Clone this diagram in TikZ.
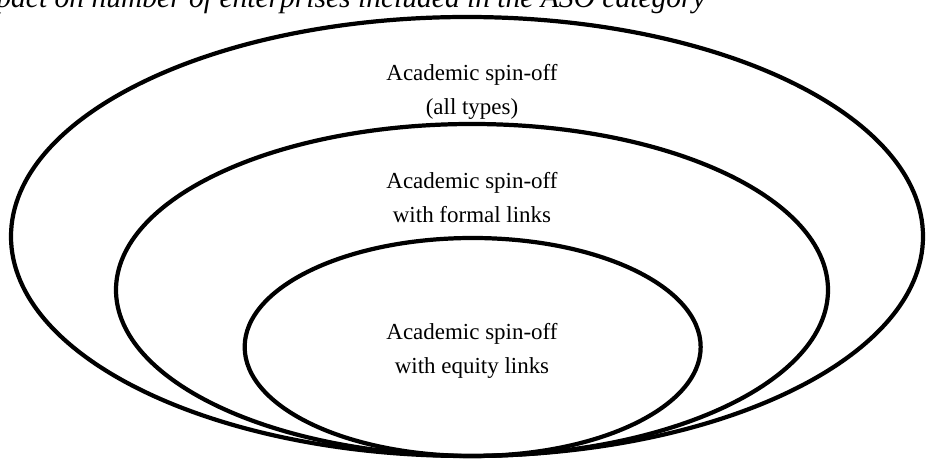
\documentclass[tikz,border=0pt]{standalone}
\usepackage{fontspec}
\setmainfont{Liberation Serif}
\begin{document}
\begin{tikzpicture}[
    ring/.style={draw, line width=1.8pt},
    ringtext/.style={align=center, font=\fontsize{9.8}{14.5}\selectfont},
    caption/.style={anchor=base west, inner sep=0pt, font=\itshape\fontsize{12.6}{14}\selectfont}
]
    \useasboundingbox (0,0) rectangle (13.905,6.9);
    \clip (0,0) rectangle (13.905,6.9);

    % Caption, cut at the top edge
    \node[caption] (title) at (-0.06,6.79) {pact on number of enterprises included in the ASO category};

    % Nested categories, all touching at the bottom
    \draw[ring] (7.005,3.3525) ellipse [x radius=6.84cm, y radius=3.2925cm];
    \draw[ring] (7.08,2.55) ellipse [x radius=5.34cm, y radius=2.49cm];
    \draw[ring] (7.09,1.695) ellipse [x radius=3.42cm, y radius=1.635cm];

    % Labels
    \node[ringtext] (all) at (7.08,5.52) {Academic spin-off\\(all types)};
    \node[ringtext] (formal) at (7.08,3.93) {Academic spin-off\\with formal links};
    \node[ringtext] (equity) at (7.08,1.64) {Academic spin-off\\with equity links};
\end{tikzpicture}
\end{document}
